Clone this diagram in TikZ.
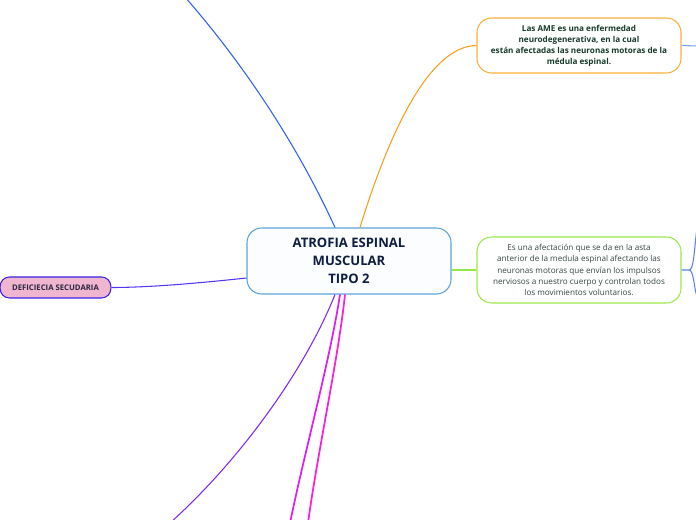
\documentclass[tikz,border=0pt]{standalone}
\usepackage{fontspec}
\setmainfont{Open Sans}
\usepackage{tikz}
\usetikzlibrary{shapes}

\definecolor{rootline}{HTML}{5BA3DC}
\definecolor{rootfill}{HTML}{FCFDFF}
\definecolor{roottext}{HTML}{0E1E42}
\definecolor{amedraw}{HTML}{FBB03B}
\definecolor{ametext}{HTML}{173A2A}
\definecolor{defdraw}{HTML}{9BE84A}
\definecolor{deftext}{HTML}{344644}
\definecolor{secdraw}{HTML}{3A22E8}
\definecolor{secfill}{HTML}{F0B6CF}
\definecolor{sectext}{HTML}{2A2440}

\begin{document}
\begin{tikzpicture}[x=0.75pt,y=-0.75pt,
  topic/.style={shape=rectangle,rounded corners=11pt,align=center,line width=0.8pt,inner sep=0pt},
  branch/.style={-,line width=0.8pt}]
\useasboundingbox (0,0) rectangle (696,520);
\node[topic,draw=rootline,fill=rootfill,text=roottext,minimum width=153pt,minimum height=49.5pt,font=\fontsize{9.8}{13.5}\selectfont\bfseries] (0) at (349,261) {ATROFIA ESPINAL\\MUSCULAR\\TIPO 2};
\node[topic,draw=amedraw,fill=white,text=ametext,minimum width=153pt,minimum height=41.25pt,font=\fontsize{6.1}{8.3}\selectfont\bfseries] (1) at (579,45.5) {Las AME es una enfermedad\\neurodegenerativa, en la cual\\están afectadas las neuronas motoras de la\\médula espinal.};
\node[topic,draw=defdraw,fill=white,text=deftext,minimum width=153pt,minimum height=49.5pt,font=\fontsize{6.1}{8.4}\selectfont] (2) at (579,270) {Es una afectación que se da en la asta\\anterior de la medula espinal afectando las\\neuronas motoras que envían los impulsos\\nerviosos a nuestro cuerpo y controlan todos\\los movimientos voluntarios.};
\node[topic,rounded corners=7pt,draw=secdraw,fill=secfill,text=sectext,minimum width=83pt,minimum height=15.75pt,font=\fontsize{5.8}{6}\selectfont\bfseries] (3) at (55.5,287.5) {DEFICIECIA SECUDARIA};

\coordinate (4) at (185,-3);
\coordinate (5) at (170,523);
\coordinate (6) at (290,523);
\coordinate (7) at (308,523);
\coordinate (8) at (697,46);
\coordinate (9) at (697,228);
\coordinate (10) at (697,296);

\path [branch,draw={rgb,255:red,47;green,98;blue,240}] ([xshift=-10.5pt]0.north) .. controls (295,140) and (240,60) .. (4);
\path [branch,draw={rgb,255:red,248;green,160;blue,30}] ([xshift=8.25pt]0.north) .. controls (390,130) and (430,46) .. (1.west);
\path [branch,draw={rgb,255:red,150;green,232;blue,70}] ([yshift=-6.75pt]0.east) -- (2.west);
\path [branch,draw={rgb,255:red,84;green,56;blue,240}] ([yshift=-12.75pt]0.west) .. controls (200,283) and (150,287.5) .. (3.east);
\path [branch,draw={rgb,255:red,128;green,40;blue,245}] ([xshift=-10.5pt]0.south) .. controls (305,370) and (240,460) .. (5);
\path [branch,line width=1.3pt,draw={rgb,255:red,222;green,30;blue,245}] ([xshift=-6.75pt]0.south) .. controls (330,360) and (305,450) .. (6);
\path [branch,line width=1.3pt,draw={rgb,255:red,255;green,30;blue,210}] ([xshift=-3pt]0.south) .. controls (338,360) and (318,450) .. (7);
\path [branch,draw={rgb,255:red,120;green,160;blue,245}] (1.east) -- (8);
\path [branch,draw={rgb,255:red,90;green,130;blue,245}] (2.east) -- (689,270) .. controls (694,270) and (694,250) .. (9);
\path [branch,draw={rgb,255:red,90;green,130;blue,245}] (689,270) .. controls (694,270) and (694,290) .. (10);
\end{tikzpicture}
\end{document}
